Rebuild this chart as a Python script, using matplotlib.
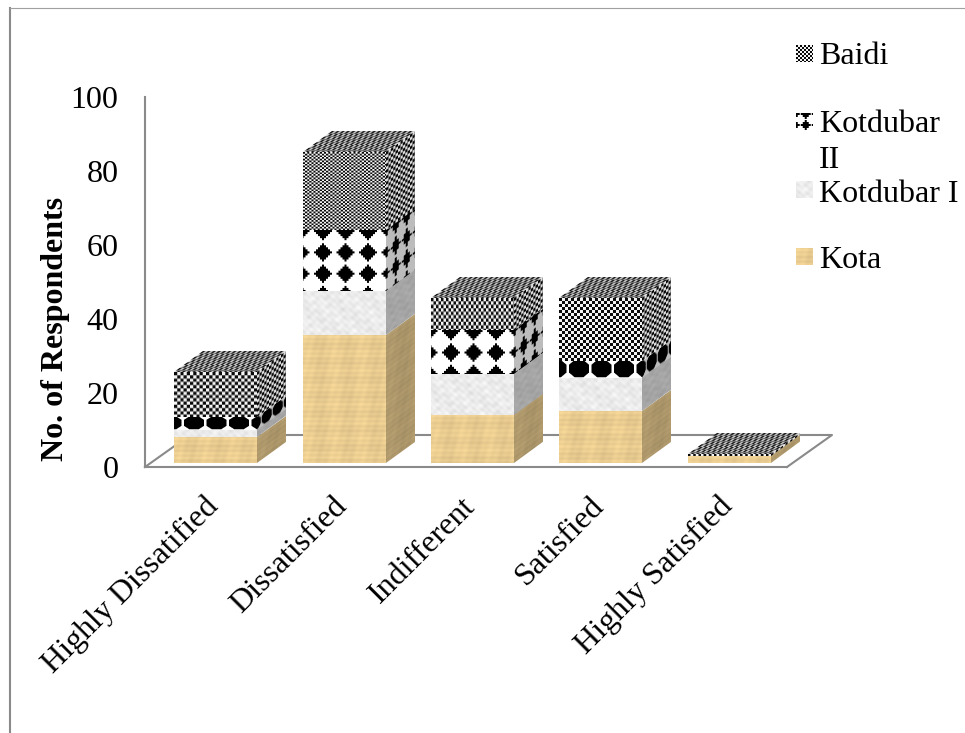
import numpy as np
import matplotlib
matplotlib.use("Agg")
import matplotlib.pyplot as plt
from matplotlib.lines import Line2D
from matplotlib.transforms import Affine2D, IdentityTransform

plt.rcParams['font.family'] = ['Liberation Serif', 'DejaVu Serif']

categories = ['Highly Dissatified', 'Dissatisfied', 'Indifferent', 'Satisfied', 'Highly Satisfied']
kota = [7, 34.5, 13, 14, 2]
kotdubar_1 = [2, 12, 11, 9, 0]
kotdubar_2 = [3.5, 16.5, 12, 4.5, 0]
baidi = [12, 21, 8.5, 17, 0.5]
yticks = [0, 20, 40, 60, 80, 100]

W, H = 965, 733
FS = 23
GRAY = '#8a8a8a'
BAR_W = 0.646
FRONT = (6.5, 4)    # bar front sits a little way into the floor
DEPTH = (29, 21)    # depth of a bar, pixels
FLOOR = (45, 32)
# checker cell (w, h) of the Baidi fill for each bar
CELLS = [(3.2, 3.2), (2.1, 1.7), (2.5, 3.3), (3.0, 3.0), (2.6, 2.6)]


def grid(h, w, ss=4):
    y, x = np.mgrid[0:h * ss, 0:w * ss]
    return (x + 0.5) / ss, (y + 0.5) / ss


def shrink(a, h, w, ss=4):
    return a.reshape(h, ss, w, ss).mean(axis=(1, 3))


def to_rgba(g, col):
    rgb = np.clip(g[..., None] * np.array(col), 0, 1)
    return np.dstack([rgb, np.ones(g.shape)])


def checker(h, w, cx, cy, shade=1.0):
    x, y = grid(h, w)
    a = ((np.floor(x / cx) + np.floor(y / cy)) % 2).astype(float)
    return to_rgba(shrink(a, h, w) * 0.92 + 0.04, (shade, shade, shade))


def blobs(h, w, px, py, shade=1.0):
    # black stepped diamonds on white, squashed to octagons in thin layers
    x, y = grid(h, w)
    squat = h < 25
    if squat:
        py = h * 1.25
        y0 = h * 0.45
    else:
        y0 = 2.0
    dx = (x + 2.5 * px / 22.5 + px / 2) % px - px / 2
    dy = (y - y0 + py / 2) % py - py / 2
    if squat:
        a, b = px * 0.45, py * 0.40
        m = np.maximum(np.maximum(np.abs(dx) / a, np.abs(dy) / b),
                       (np.abs(dx) / a + np.abs(dy) / b) / 1.45)
    else:
        # stepped edge instead of a clean rhombus
        a, b = px * 0.42, py * 0.44
        sx = np.round(np.abs(dx) / 2) * 2
        sy = np.round(np.abs(dy) / 2) * 2
        m = sx / a + sy / b
    g = np.where(m < 1, 0.0, 1.0)
    return to_rgba(shrink(g, h, w), (shade, shade, shade))


def marble(h, w, shade=1.0):
    y, x = np.mgrid[0:h, 0:w].astype(float)
    n = (np.sin(x * 0.41 + y * 0.23) * np.sin(x * 0.13 - y * 0.37 + 0.6)
         + np.sin(x * 0.17 - y * 0.53 + 1.3) * np.sin(y * 0.31 + 2.0)
         + 0.6 * np.sin(x * 0.71 + y * 0.67 + 2.1)
         + 0.6 * np.sin(x * 0.89 - y * 0.97))
    g = (0.925 + 0.02 * n) * shade
    return to_rgba(g, (1, 1, 1))


def papyrus(h, w, shade=1.0):
    y, x = np.mgrid[0:h, 0:w].astype(float)
    n = (np.sin(y * 1.3) + 0.7 * np.sin(y * 0.37 + 1.1) + np.sin(x * 0.23 + 0.7)
         + 0.6 * np.sin(x * 0.77 + y * 0.2))
    g = (1.0 + 0.022 * n) * shade
    return to_rgba(g, (0.915, 0.80, 0.565))


def draw_face(ax, tex, origin, ex, ey, z):
    # place a texture on a parallelogram given in display pixels
    tr = Affine2D.from_values(ex[0], ex[1], ey[0], ey[1], origin[0], origin[1])
    ax.imshow(tex, extent=(0, 1, 0, 1), origin='upper', transform=tr,
              interpolation='bilinear', aspect='auto', clip_on=False, zorder=z)


fig = plt.figure(figsize=(W / 100, H / 100), dpi=100, facecolor='white')
ax = fig.add_axes([145 / W, (H - 467) / H, (787 - 145) / W, (467 - 97) / H])
ax.set_xlim(0, 5)
ax.set_ylim(0, 100)
ax.patch.set_alpha(0)
for s in ['top', 'right']:
    ax.spines[s].set_visible(False)
for s in ['left', 'bottom']:
    ax.spines[s].set_color(GRAY)
    ax.spines[s].set_linewidth(1.5)
ax.set_xticks([])
ax.set_yticks(yticks)
ax.tick_params(axis='y', length=0, pad=19, labelsize=FS, colors='black')
for lab in ax.get_yticklabels():
    lab.set_verticalalignment('center')
    lab.set_transform(lab.get_transform() + Affine2D().translate(0, -3))

# floor outline
p00 = ax.transData.transform((0, 0))
p50 = ax.transData.transform((5, 0))
fd = np.array(FLOOR)
floor = np.array([p00, p00 + fd, p50 + fd, p50])
ax.add_line(Line2D(floor[:, 0], floor[:, 1], transform=IdentityTransform(),
                   color=GRAY, lw=1.5, zorder=1, clip_on=False))

series = [('kota', kota), ('k1', kotdubar_1), ('k2', kotdubar_2), ('baidi', baidi)]
off = np.array(FRONT)
dep = np.array(DEPTH)

for i in range(len(categories)):
    cx, cy = CELLS[i]
    left = i + 0.5 - BAR_W / 2
    bottom = 0
    for kind, vals in series:
        v = vals[i]
        if v <= 0:
            continue
        p0 = ax.transData.transform((left, bottom)) + off
        p1 = ax.transData.transform((left + BAR_W, bottom + v)) + off
        w, h = p1[0] - p0[0], p1[1] - p0[1]
        tw, th = int(round(w)), max(int(round(h)), 1)
        if kind == 'kota':
            front = papyrus(th, tw)
            side = papyrus(th, dep[0], 0.74)
        elif kind == 'k1':
            front = marble(th, tw)
            side = marble(th, dep[0], 0.70)
        elif kind == 'k2':
            front = blobs(th, tw, 22.5, 21)
            side = blobs(th, dep[0], 11, 21, 0.74)
        else:
            front = checker(th, tw, cx, cy)
            side = checker(th, dep[0], 2.4, 3.0, 0.9)
        draw_face(ax, side, (p1[0], p0[1]), dep, (0, h), 3)
        draw_face(ax, front, p0, (w, 0), (0, h), 4)
        bottom += v
    # top face of the stack
    ptop = ax.transData.transform((left, bottom)) + off
    ptop2 = ax.transData.transform((left + BAR_W, bottom)) + off
    top = checker(DEPTH[1], int(round(ptop2[0] - ptop[0])), 2.6, 2.8, 0.9)
    draw_face(ax, top, ptop, (ptop2[0] - ptop[0], 0), dep, 3)

    ax.annotate(categories[i], xy=(i + 0.5, 0), xycoords='data',
                xytext=(5, -35), textcoords='offset pixels', rotation=45,
                rotation_mode='anchor', ha='right', va='center',
                fontsize=FS, color='black', annotation_clip=False)

fig.text(55 / W, 1 - 329 / H, 'No. of Respondents', rotation=90, fontsize=FS,
         fontweight='bold', ha='center', va='center', color='black')

# legend, top to bottom
fig.figimage(checker(17, 17, 2, 2)[:, :, :3], 796, H - 62, zorder=5)
swatch = blobs(30, 17, 11, 11)[12:29, :, :3]
fig.figimage(swatch, 796, H - 130, zorder=5)
fig.figimage(marble(17, 17)[:, :, :3], 796, H - 198, zorder=5)
fig.figimage(papyrus(17, 17)[:, :, :3], 796, H - 265, zorder=5)
for txt, base in [('Baidi', 64), ('Kotdubar', 132), ('II', 168), ('Kotdubar I', 202), ('Kota', 268)]:
    fig.text(819 / W, 1 - base / H, txt, fontsize=FS, ha='left', va='baseline', color='black')

# frame around the chart area
fig.add_artist(Line2D([10 / W, 10 / W], [0, 1 - 8 / H], color=GRAY, lw=1.5))
fig.add_artist(Line2D([10 / W, 1], [1 - 8 / H, 1 - 8 / H], color='#a0a0a0', lw=0.8))

fig.savefig('out.png', dpi=100, facecolor='white')
